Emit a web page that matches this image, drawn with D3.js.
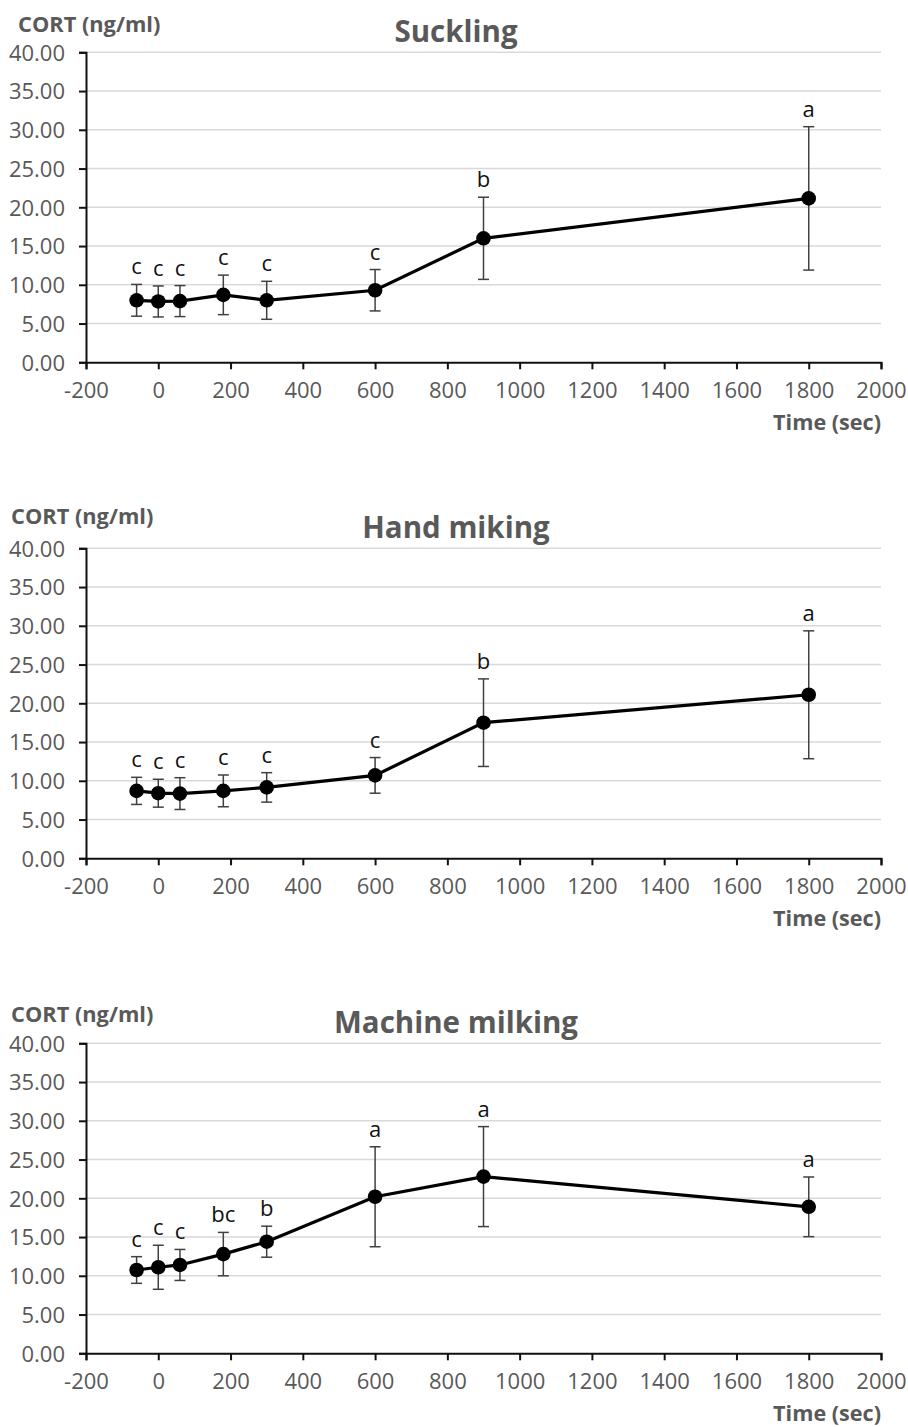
<!DOCTYPE html>
<html>
<head>
<meta charset="utf-8">
<script src="https://cdn.jsdelivr.net/npm/d3@7"></script>
<style>
  body { margin: 0; background: #fff; }
  svg { display: block; font-family: "Open Sans", sans-serif; }
</style>
</head>
<body>
<svg id="chart" width="908" height="1427"></svg>
<script>
// sampling times (sec)
const times = [-60, 0, 60, 180, 300, 600, 900, 1800];

const sucklingMean = [8.0, 7.85, 7.9, 8.7, 8.0, 9.3, 16.0, 21.15];
const sucklingSd = [2.05, 2.0, 2.0, 2.55, 2.45, 2.67, 5.3, 9.25];
const sucklingLetters = ["c", "c", "c", "c", "c", "c", "b", "a"];

const handMean = [8.7, 8.4, 8.35, 8.7, 9.15, 10.7, 17.5, 21.1];
const handSd = [1.75, 1.8, 2.05, 2.05, 1.9, 2.3, 5.65, 8.25];
const handLetters = ["c", "c", "c", "c", "c", "c", "b", "a"];

const machineMean = [10.75, 11.1, 11.4, 12.8, 14.4, 20.2, 22.8, 18.9];
const machineSd = [1.72, 2.84, 2.0, 2.8, 2.0, 6.45, 6.45, 3.85];
const machineLetters = ["c", "c", "c", "bc", "b", "a", "a", "a"];

const panelTitles = ["Suckling", "Hand miking", "Machine milking"];
const yTicks = [0, 5, 10, 15, 20, 25, 30, 35, 40];
const xTicks = [-200, 0, 200, 400, 600, 800, 1000, 1200, 1400, 1600, 1800, 2000];

const panels = [
  { title: panelTitles[0], mean: sucklingMean, sd: sucklingSd, letters: sucklingLetters, top: 52.3, yLabX: 18, yLabDy: -20.6 },
  { title: panelTitles[1], mean: handMean, sd: handSd, letters: handLetters, top: 548.3, yLabX: 11, yLabDy: -24.3 },
  { title: panelTitles[2], mean: machineMean, sd: machineSd, letters: machineLetters, top: 1043.3, yLabX: 11, yLabDy: -21.6 }
];

const plotH = 310;
const left = 86, right = 881;
const grey = "#595959";

const svg = d3.select("#chart");
const x = d3.scaleLinear().domain([-200, 2000]).range([left, right]);

panels.forEach(p => {
  const y = d3.scaleLinear().domain([0, 40]).range([p.top + plotH, p.top]);
  const g = svg.append("g");

  // gridlines
  g.selectAll(".grid").data(yTicks.filter(d => d > 0)).join("line")
    .attr("x1", left).attr("x2", right)
    .attr("y1", d => y(d)).attr("y2", d => y(d))
    .attr("stroke", "#d9d9d9").attr("stroke-width", 1.5);

  // y axis
  const yAxis = g.append("g").attr("transform", `translate(${left},0)`)
    .call(d3.axisLeft(y).tickValues(yTicks).tickFormat(d3.format(".2f")).tickSizeOuter(0).tickSize(7).tickPadding(14));
  yAxis.attr("font-family", null).attr("font-size", null);
  yAxis.select(".domain").attr("stroke", "#111").attr("stroke-width", 2);
  yAxis.selectAll(".tick line").attr("stroke", "#111").attr("stroke-width", 2);
  yAxis.selectAll(".tick text").attr("fill", grey).attr("font-size", 22).attr("dy", "0.36em");

  // x axis
  const xAxis = g.append("g").attr("transform", `translate(0,${p.top + plotH})`)
    .call(d3.axisBottom(x).tickValues(xTicks).tickFormat(d => String(d)).tickSizeOuter(0).tickSize(7).tickPadding(13));
  xAxis.attr("font-family", null).attr("font-size", null);
  xAxis.select(".domain").attr("stroke", "#111").attr("stroke-width", 2);
  xAxis.selectAll(".tick line").attr("stroke", "#111").attr("stroke-width", 2);
  xAxis.selectAll(".tick text").attr("fill", grey).attr("font-size", 22);

  // title + axis labels
  g.append("text").attr("x", 456).attr("y", p.top - 10.5)
    .attr("text-anchor", "middle").attr("font-size", 29.5).attr("font-weight", "bold")
    .attr("fill", grey).text(p.title);
  g.append("text").attr("x", p.yLabX).attr("y", p.top + p.yLabDy)
    .attr("font-size", 21.8).attr("font-weight", "bold").attr("fill", grey).text("CORT (ng/ml)");
  g.append("text").attr("x", right).attr("y", p.top + plotH + 68)
    .attr("text-anchor", "end").attr("font-size", 21.6).attr("font-weight", "bold")
    .attr("fill", grey).text("Time (sec)");

  const pts = times.map((t, i) => ({ t, m: p.mean[i], s: p.sd[i], l: p.letters[i] }));

  // error bars
  const eb = g.selectAll(".eb").data(pts).join("g").attr("stroke", "#404040").attr("stroke-width", 1.5);
  eb.append("line").attr("x1", d => x(d.t)).attr("x2", d => x(d.t))
    .attr("y1", d => y(d.m - d.s)).attr("y2", d => y(d.m + d.s));
  eb.append("line").attr("x1", d => x(d.t) - 5.5).attr("x2", d => x(d.t) + 5.5)
    .attr("y1", d => y(d.m + d.s)).attr("y2", d => y(d.m + d.s));
  eb.append("line").attr("x1", d => x(d.t) - 5.5).attr("x2", d => x(d.t) + 5.5)
    .attr("y1", d => y(d.m - d.s)).attr("y2", d => y(d.m - d.s));

  // mean line
  g.append("path").datum(pts)
    .attr("d", d3.line().x(d => x(d.t)).y(d => y(d.m)))
    .attr("fill", "none").attr("stroke", "#000").attr("stroke-width", 3.2);

  g.selectAll(".pt").data(pts).join("circle")
    .attr("cx", d => x(d.t)).attr("cy", d => y(d.m)).attr("r", 7.3).attr("fill", "#000");

  // significance letters
  g.selectAll(".lt").data(pts).join("text")
    .attr("x", d => x(d.t)).attr("y", d => y(d.m + d.s) - 10)
    .attr("text-anchor", "middle").attr("font-size", 22).attr("fill", "#111")
    .text(d => d.l);
});
</script>
</body>
</html>
